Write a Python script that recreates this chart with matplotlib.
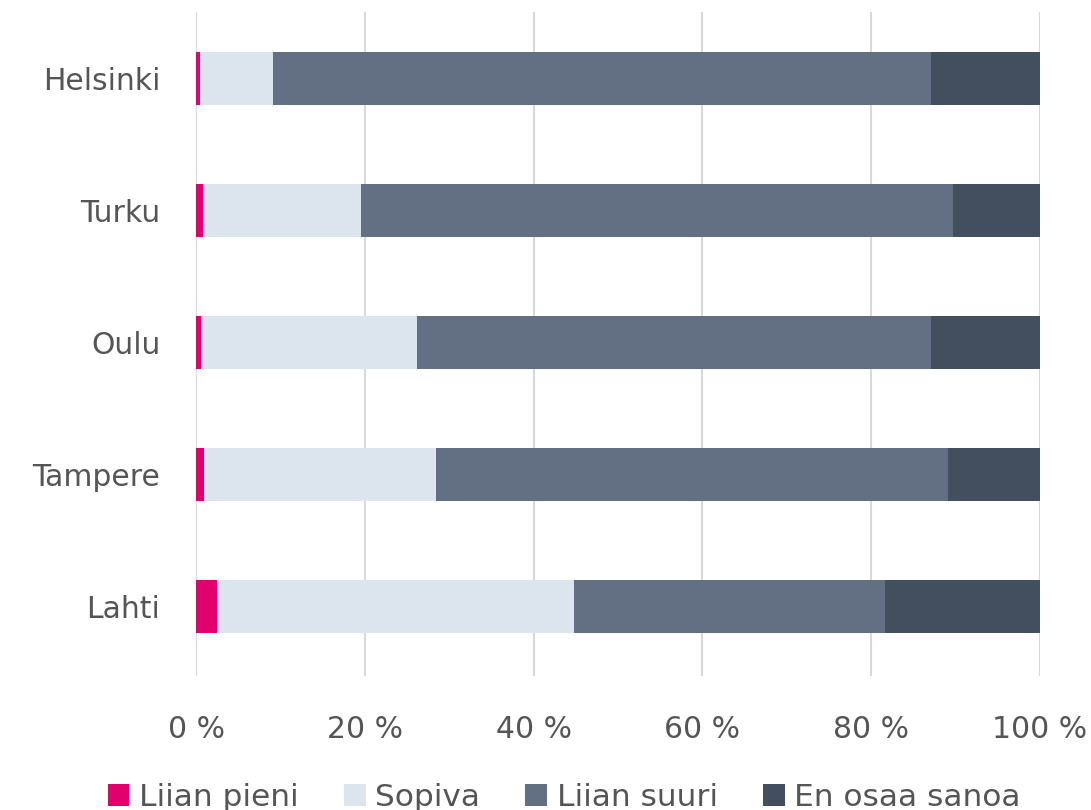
import matplotlib.pyplot as plt
import numpy as np

plt.rcParams['font.family'] = ['DejaVu Sans']

cities = ["Helsinki", "Turku", "Oulu", "Tampere", "Lahti"]
series = ["Liian pieni", "Sopiva", "Liian suuri", "En osaa sanoa"]
liian_pieni = [0.4, 0.8, 0.6, 0.9, 2.4]
sopiva = [8.7, 18.7, 25.6, 27.5, 42.4]
liian_suuri = [78.0, 70.2, 60.9, 60.7, 36.8]
en_osaa = [12.9, 10.3, 12.9, 10.9, 18.4]
xticks = [0, 20, 40, 60, 80, 100]
colors = ["#E0006E", "#DCE4EE", "#637083", "#434F5F"]

fig = plt.figure(figsize=(10.91, 8.1), dpi=100)
ax = fig.add_axes([0.18, 0.165, 0.773, 0.82])

y = np.arange(len(cities))
left = np.zeros(len(cities))
for name, vals, c in zip(series, [liian_pieni, sopiva, liian_suuri, en_osaa], colors):
    ax.barh(y, vals, left=left, height=0.4, color=c, label=name, zorder=3)
    left += np.array(vals)

ax.set_ylim(4.53, -0.5)
ax.set_xlim(0, 100)
ax.set_yticks(y)
ax.set_yticklabels(cities)
ax.set_xticks(xticks)
ax.set_xticklabels([f"{t} %" for t in xticks])
ax.tick_params(axis='both', length=0, labelsize=21.5, colors="#555555")
ax.tick_params(axis='y', pad=26)
ax.tick_params(axis='x', pad=28)
ax.grid(axis='x', color="#D9D9D9", linewidth=1.5, zorder=0)
for s in ax.spines.values():
    s.set_visible(False)

fig.legend(loc='lower center', bbox_to_anchor=(0.517, -0.037), ncol=4, frameon=False,
           fontsize=22.5, labelcolor="#555555", handlelength=0.7, handleheight=0.7,
           handletextpad=0.3, columnspacing=1.45)

fig.savefig("out.png", dpi=100)
